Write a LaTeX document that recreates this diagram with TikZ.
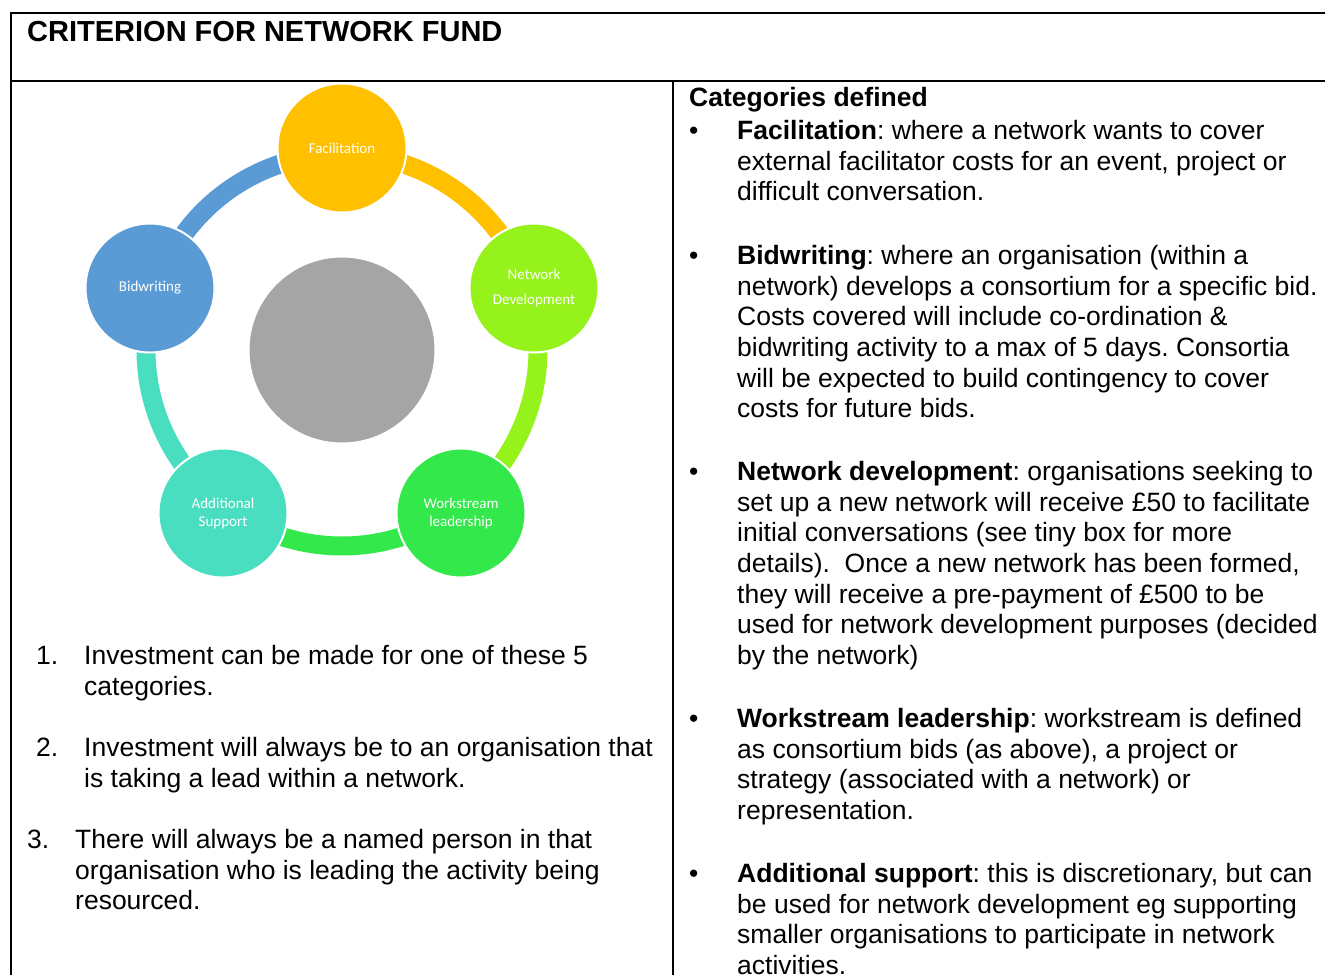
\documentclass[tikz,border=0pt]{standalone}
\usepackage{fontspec}
\setmainfont{Liberation Sans}
\newfontfamily\calib{Carlito}
\definecolor{cFac}{HTML}{FFC000}
\definecolor{cNet}{HTML}{95F21B}
\definecolor{cWork}{HTML}{33E84A}
\definecolor{cAdd}{HTML}{4ADEC1}
\definecolor{cBid}{HTML}{5B9BD5}
\definecolor{cGray}{HTML}{A5A5A5}
\frenchspacing
\begin{document}
\begin{tikzpicture}[x=1pt,y=-1pt,
  rule/.style={line width=2pt, black},
  bub/.style={circle, minimum size=129pt, inner sep=0pt, draw=white, line width=2pt,
    font=\calib\fontsize{15}{18}\selectfont, text=white, align=center},
  ring/.style={line width=19pt},
  body/.style={anchor=base west, inner sep=0pt, font=\fontsize{26.5}{30.65}\selectfont},
  ttl/.style={anchor=base west, inner sep=0pt, font=\bfseries\fontsize{29}{33}\selectfont},
]
\useasboundingbox (0,0) rectangle (1325,975);
\fill[white] (0,0) rectangle (1325,975);

% table rules
\coordinate (tl) at (11,13);
\coordinate (tr) at (1325,13);
\coordinate (bl) at (11,975);
\coordinate (hl) at (11,81);
\coordinate (hr) at (1325,81);
\coordinate (dt) at (673,81);
\coordinate (db) at (673,975);
\draw[rule] (tr) -- (tl) -- (bl);
\draw[rule] (hl) -- (hr);
\draw[rule] (dt) -- (db);

\node[ttl] (title) at (27,41.4) {CRITERION FOR NETWORK FUND};

% cycle diagram
\coordinate (C) at (342,350);
\draw[ring, cFac]  plot[domain=-90:-18, samples=50] ({342+196*cos(\x)},{350+196*sin(\x)});
\draw[ring, cNet]  plot[domain=-18:54,  samples=50] ({342+196*cos(\x)},{350+196*sin(\x)});
\draw[ring, cWork] plot[domain=54:126,  samples=50] ({342+196*cos(\x)},{350+196*sin(\x)});
\draw[ring, cAdd]  plot[domain=126:198, samples=50] ({342+196*cos(\x)},{350+196*sin(\x)});
\draw[ring, cBid]  plot[domain=198:270, samples=50] ({342+196*cos(\x)},{350+196*sin(\x)});

\node[circle, minimum size=186pt, inner sep=0pt, fill=cGray, draw=white, line width=1pt] (hub) at (C) {};
\node[bub, fill=cFac]  (fac)  at (342,148) {Facilitation};
\node[bub, fill=cNet, font=\calib\fontsize{15}{25}\selectfont]  (net)  at (534,288) {Network\\Development};
\node[bub, fill=cWork] (work) at (461,513) {Workstream\\leadership};
\node[bub, fill=cAdd]  (add)  at (223,513) {Additional\\Support};
\node[bub, fill=cBid]  (bid)  at (150,288) {Bidwriting};

% left column list
\node[body] (n1) at (36,664.5) {1.};
\node[body] (l1) at (84,664.5) {\begin{tabular}[t]{@{}l@{}}Investment can be made for one of these 5\\categories.\end{tabular}};
\node[body] (n2) at (36,756.5) {2.};
\node[body] (l2) at (84,756.5) {\begin{tabular}[t]{@{}l@{}}Investment will always be to an organisation that\\is taking a lead within a network.\end{tabular}};
\node[body] (n3) at (27,848.5) {3.};
\node[body] (l3) at (75,848.5) {\begin{tabular}[t]{@{}l@{}}There will always be a named person in that\\organisation who is leading the activity being\\resourced.\end{tabular}};

% right column
\node[body, font=\bfseries\fontsize{26.5}{30.65}\selectfont] (cat) at (689,106.5) {Categories defined};

\node[body] (b1) at (689,139.5) {•};
\node[body] (p1) at (737,139.5) {\begin{tabular}[t]{@{}l@{}}\textbf{Facilitation}: where a network wants to cover\\external facilitator costs for an event, project or\\difficult conversation.\end{tabular}};

\node[body] (b2) at (689,264.5) {•};
\node[body] (p2) at (737,264.5) {\begin{tabular}[t]{@{}l@{}}\textbf{Bidwriting}: where an organisation (within a\\network) develops a consortium for a specific bid.\\Costs covered will include co-ordination \&\\bidwriting activity to a max of 5 days. Consortia\\will be expected to build contingency to cover\\costs for future bids.\end{tabular}};

\node[body] (b3) at (689,480.5) {•};
\node[body] (p3) at (737,480.5) {\begin{tabular}[t]{@{}l@{}}\textbf{Network development}: organisations seeking to\\set up a new network will receive £50 to facilitate\\initial conversations (see tiny box for more\\details).\ \ Once a new network has been formed,\\they will receive a pre-payment of £500 to be\\used for network development purposes (decided\\by the network)\end{tabular}};

\node[body] (b4) at (689,727.5) {•};
\node[body] (p4) at (737,727.5) {\begin{tabular}[t]{@{}l@{}}\textbf{Workstream leadership}: workstream is defined\\as consortium bids (as above), a project or\\strategy (associated with a network) or\\representation.\end{tabular}};

\node[body] (b5) at (689,882.5) {•};
\node[body] (p5) at (737,882.5) {\begin{tabular}[t]{@{}l@{}}\textbf{Additional support}: this is discretionary, but can\\be used for network development eg supporting\\smaller organisations to participate in network\\activities.\end{tabular}};
\end{tikzpicture}
\end{document}
